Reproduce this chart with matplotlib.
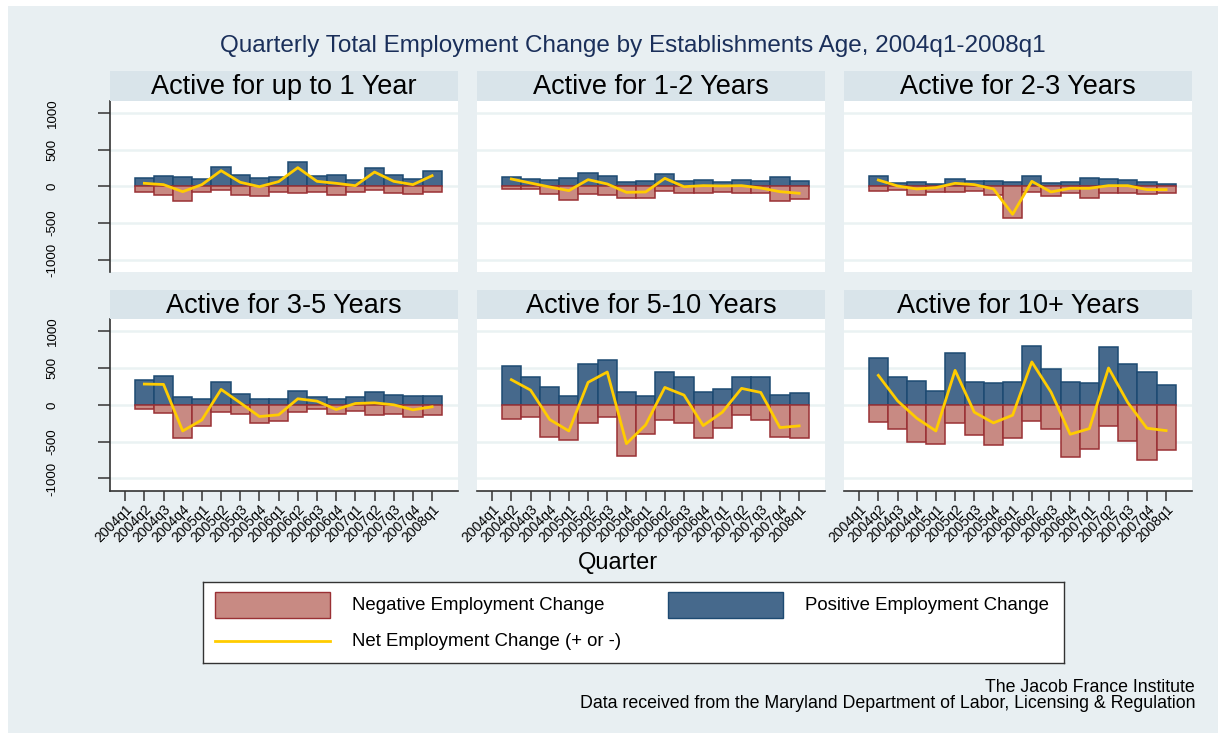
import numpy as np
import matplotlib
matplotlib.use("Agg")
import matplotlib.pyplot as plt
from matplotlib.patches import Rectangle
from matplotlib.lines import Line2D

plt.rcParams['font.family'] = ['Liberation Sans', 'DejaVu Sans']

# Quarters on the x axis (first quarter has no change value)
quarters = ["2004q1", "2004q2", "2004q3", "2004q4", "2005q1", "2005q2", "2005q3", "2005q4",
            "2006q1", "2006q2", "2006q3", "2006q4", "2007q1", "2007q2", "2007q3", "2007q4", "2008q1"]

panel_titles = ["Active for up to 1 Year", "Active for 1-2 Years", "Active for 2-3 Years",
                "Active for 3-5 Years", "Active for 5-10 Years", "Active for 10+ Years"]

# positive employment change, 2004q2..2008q1
pos_up1 = [109, 136, 132, 95, 268, 155, 118, 132, 336, 141, 155, 82, 255, 150, 105, 214]
pos_1_2 = [132, 100, 86, 114, 186, 141, 64, 73, 164, 73, 86, 64, 86, 73, 132, 73]
pos_2_3 = [145, 41, 59, 32, 105, 73, 77, 55, 145, 50, 64, 114, 100, 86, 55, 32]
pos_3_5 = [336, 391, 100, 73, 309, 145, 82, 82, 182, 105, 82, 100, 173, 132, 118, 123]
pos_5_10 = [527, 373, 245, 123, 555, 614, 173, 118, 445, 373, 173, 214, 373, 382, 132, 164]
pos_10p = [632, 382, 327, 182, 705, 314, 295, 309, 795, 491, 309, 291, 786, 550, 445, 268]

# negative employment change
neg_up1 = [-73, -118, -205, -82, -50, -118, -132, -77, -95, -82, -123, -82, -55, -95, -105, -73]
neg_1_2 = [-36, -36, -105, -186, -105, -118, -164, -164, -64, -95, -95, -77, -95, -95, -205, -173]
neg_2_3 = [-64, -50, -114, -73, -73, -64, -118, -436, -77, -136, -95, -155, -91, -91, -105, -95]
neg_3_5 = [-55, -114, -450, -286, -95, -127, -245, -223, -95, -55, -127, -82, -141, -127, -168, -141]
neg_5_10 = [-186, -168, -432, -482, -250, -159, -700, -391, -200, -250, -450, -309, -141, -205, -441, -455]
neg_10p = [-236, -332, -505, -536, -241, -414, -541, -450, -223, -332, -709, -600, -286, -495, -745, -618]

# net employment change
net_up1 = [41, 23, -73, 23, 214, 55, -5, 64, 255, 68, 41, 9, 195, 68, 23, 145]
net_1_2 = [100, 45, -9, -59, 91, 32, -82, -77, 109, -5, 9, 5, 9, -23, -73, -95]
net_2_3 = [86, 5, -36, -18, 41, 23, -36, -382, 68, -77, -27, -27, 9, 9, -45, -45]
net_3_5 = [282, 277, -355, -205, 209, 27, -159, -136, 82, 50, -64, 18, 27, 0, -68, -27]
net_5_10 = [341, 200, -200, -355, 305, 445, -527, -273, 236, 132, -282, -100, 223, 168, -309, -286]
net_10p = [400, 55, -182, -355, 468, -100, -245, -141, 582, 173, -400, -323, 500, 32, -318, -350]

pos_all = [pos_up1, pos_1_2, pos_2_3, pos_3_5, pos_5_10, pos_10p]
neg_all = [neg_up1, neg_1_2, neg_2_3, neg_3_5, neg_5_10, neg_10p]
net_all = [net_up1, net_1_2, net_2_3, net_3_5, net_5_10, net_10p]

BG = '#e8eff2'
STRIP = '#d9e4ea'
GRID = '#eaf2f3'
POS_FILL = '#46698c'
POS_EDGE = '#1d4a72'
NEG_FILL = '#c88a83'
NEG_EDGE = '#9a3034'
NET_COL = '#ffcc00'

W, H = 1227, 736
fig = plt.figure(figsize=(W / 100, H / 100), dpi=100, facecolor='white')

# light graph region with thin white border
fig.patches.append(Rectangle((8 / W, 1 - 733 / H), 1210 / W, 727 / H, transform=fig.transFigure,
                             facecolor=BG, edgecolor='none', zorder=-10))

fig.text(633 / W, 1 - 46 / H, "Quarterly Total Employment Change by Establishments Age, 2004q1-2008q1",
         ha='center', va='center', fontsize=17.5, color='#1a2f5a')

col_left = [110, 477, 844]
col_w = 348
rows = [(101, 272, 71), (319, 491, 290)]  # plot top, plot bottom, strip top

x_idx = np.arange(len(quarters))
x_data = x_idx[1:]

for k in range(6):
    r, c = divmod(k, 3)
    top, bot, strip_top = rows[r]
    left = col_left[c]
    ax = fig.add_axes([left / W, 1 - bot / H, col_w / W, (bot - top) / H])
    ax.set_facecolor('white')

    # strip with panel title
    sax = fig.add_axes([left / W, 1 - top / H, col_w / W, (top - strip_top) / H])
    sax.set_facecolor(STRIP)
    sax.set_xticks([])
    sax.set_yticks([])
    for s in sax.spines.values():
        s.set_visible(False)
    sax.text(0.5, 0.45, panel_titles[k], ha='center', va='center', fontsize=19.5, transform=sax.transAxes)

    for yv in [-1000, -500, 0, 500, 1000]:
        ax.axhline(yv, color=GRID, lw=1.8, zorder=0)

    ax.bar(x_data, pos_all[k], width=1.0, color=POS_FILL, edgecolor=POS_EDGE, linewidth=1.1, zorder=2)
    ax.bar(x_data, neg_all[k], width=1.0, color=NEG_FILL, edgecolor=NEG_EDGE, linewidth=1.1, zorder=2)
    ax.plot(x_data, net_all[k], color=NET_COL, lw=2, zorder=3)

    ax.set_xlim(-0.79, 17.35)
    ax.set_ylim(-1170, 1165)

    ax.spines['top'].set_visible(False)
    ax.spines['right'].set_visible(False)
    if c == 0:
        ax.spines['left'].set_color('#333333')
        ax.spines['left'].set_linewidth(1.2)
        ax.set_yticks([-1000, -500, 0, 500, 1000])
        ax.set_yticklabels(['-1000', '-500', '0', '500', '1000'], rotation=90, va='center', fontsize=9.5)
        ax.tick_params(axis='y', length=9, width=1.1, color='#333333', pad=28)
    else:
        ax.spines['left'].set_visible(False)
        ax.set_yticks([])
    if r == 1:
        ax.spines['bottom'].set_color('#333333')
        ax.spines['bottom'].set_linewidth(1.2)
        ax.set_xticks(x_idx)
        ax.set_xticklabels(quarters, rotation=45, ha='right', rotation_mode='anchor', fontsize=10)
        ax.tick_params(axis='x', length=7, width=1.1, color='#333333', pad=1)
    else:
        ax.spines['bottom'].set_visible(False)
        ax.set_xticks([])

fig.text(618 / W, 1 - 563 / H, "Quarter", ha='center', va='center', fontsize=17)

# legend box
lax = fig.add_axes([203 / W, 1 - 663 / H, 861 / W, 81 / H])
lax.set_xlim(203, 1064)
lax.set_ylim(663, 582)
lax.set_facecolor('white')
lax.set_xticks([])
lax.set_yticks([])
for s in lax.spines.values():
    s.set_color('#333333')
    s.set_linewidth(1.0)
lax.add_patch(Rectangle((215, 592), 115, 26, facecolor=NEG_FILL, edgecolor=NEG_EDGE, lw=1.0))
lax.add_patch(Rectangle((668, 592), 115, 26, facecolor=POS_FILL, edgecolor=POS_EDGE, lw=1.0))
lax.add_line(Line2D([215, 330], [641, 641], color=NET_COL, lw=2))
lax.text(352, 605, "Negative Employment Change", va='center', fontsize=13.4)
lax.text(805, 605, "Positive Employment Change", va='center', fontsize=13.4)
lax.text(352, 641, "Net Employment Change (+ or -)", va='center', fontsize=13.4)

fig.text(1195 / W, 1 - 687 / H, "The Jacob France Institute", ha='right', va='center', fontsize=12.8)
fig.text(1195 / W, 1 - 704 / H, "Data received from the Maryland Department of Labor, Licensing & Regulation",
         ha='right', va='center', fontsize=12.8)

fig.savefig("out.png", dpi=100, facecolor='white')
